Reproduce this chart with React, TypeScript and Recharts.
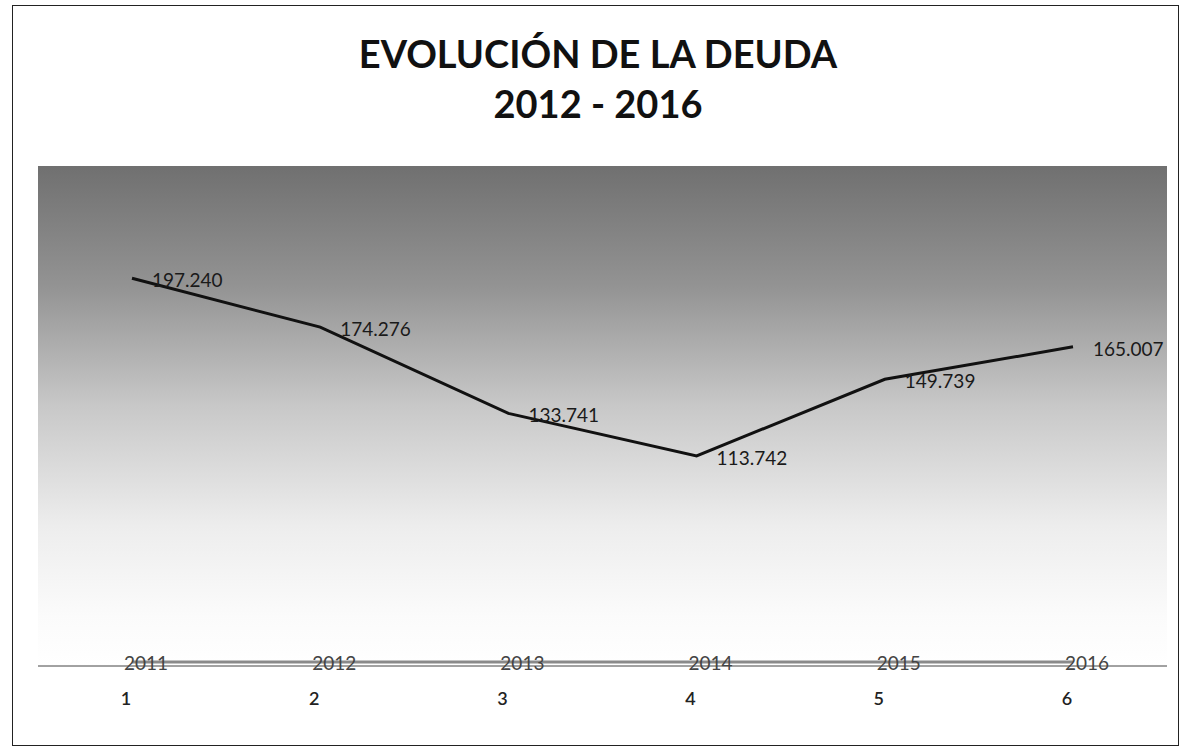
import { CartesianGrid, LabelList, Line, LineChart, XAxis, YAxis } from 'recharts';

const categories = ['1', '2', '3', '4', '5', '6'];
const years = [2011, 2012, 2013, 2014, 2015, 2016];
const deuda = [197240, 174276, 133741, 113742, 149739, 165007];

const data = categories.map((cat, i) => ({ cat, year: years[i], deuda: deuda[i] }));

const fmt = (v: number) => String(v).replace(/\B(?=(\d{3})+(?!\d))/g, '.');
const FONT = 'Lato, "Open Sans", sans-serif';

function DeudaLabel(props: any) {
  const { x, y, value } = props;
  return (
    <text x={x + 20} y={y + 4} fontFamily={FONT} fontSize={19} fill="#1a1a1a" dominantBaseline="middle">
      {fmt(value)}
    </text>
  );
}

function YearLabel(props: any) {
  const { x, y, value } = props;
  return (
    <text x={x + 14} y={y + 3} fontFamily={FONT} fontSize={19} fill="#444" textAnchor="middle" dominantBaseline="middle">
      {value}
    </text>
  );
}

function CatTick(props: any) {
  const { x, y, payload } = props;
  return (
    <text x={x - 6} y={y + 34} fontFamily={FONT} fontSize={18} fontWeight={600} fill="#222" textAnchor="middle" dominantBaseline="middle">
      {payload.value}
    </text>
  );
}

export default function App() {
  return (
    <div style={{ position: 'absolute', left: 0, top: 0, width: 1187, height: 755, background: '#fff' }}>
      <LineChart
        width={1187}
        height={755}
        data={data}
        margin={{ top: 166, right: 20, bottom: 59, left: 38 }}
      >
        <defs>
          <linearGradient id="plotBg" x1="0" y1="0" x2="0" y2="1">
            <stop offset="0%" stopColor="#707070" />
            <stop offset="24%" stopColor="#939393" />
            <stop offset="48%" stopColor="#c8c8c8" />
            <stop offset="72%" stopColor="#ededed" />
            <stop offset="90%" stopColor="#fbfbfb" />
            <stop offset="100%" stopColor="#ffffff" />
          </linearGradient>
        </defs>
        <CartesianGrid yAxisId="deuda" horizontal={false} vertical={false} fill="url(#plotBg)" stroke="none" />
        <XAxis
          dataKey="cat"
          axisLine={{ stroke: '#444', strokeWidth: 1 }}
          tickLine={false}
          tickSize={0}
          tickMargin={0}
          height={30}
          tick={<CatTick />}
          interval={0}
          padding={{ left: 94, right: 94 }}
        />
        <YAxis yAxisId="deuda" hide domain={[15000, 250000]} />
        <YAxis yAxisId="years" hide domain={[0, 250000]} />
        <Line
          yAxisId="years"
          dataKey="year"
          stroke="#8a8a8a"
          strokeWidth={3}
          dot={false}
          isAnimationActive={false}
        >
          <LabelList dataKey="year" content={<YearLabel />} />
        </Line>
        <Line
          yAxisId="deuda"
          dataKey="deuda"
          type="linear"
          stroke="#111"
          strokeWidth={3}
          dot={false}
          isAnimationActive={false}
        >
          <LabelList dataKey="deuda" content={<DeudaLabel />} />
        </Line>
      </LineChart>
      <svg width={1187} height={755} style={{ position: 'absolute', left: 0, top: 0, pointerEvents: 'none' }}>
        <rect x={12.5} y={5.5} width={1166} height={740} fill="none" stroke="#222" strokeWidth={1} />
        <text x={598} y={68} textAnchor="middle" fontFamily={FONT} fontWeight={700} fontSize={38} fill="#111">
          EVOLUCIÓN DE LA DEUDA
        </text>
        <text x={598} y={118} textAnchor="middle" fontFamily={FONT} fontWeight={700} fontSize={38} fill="#111">
          2012 - 2016
        </text>
      </svg>
    </div>
  );
}
